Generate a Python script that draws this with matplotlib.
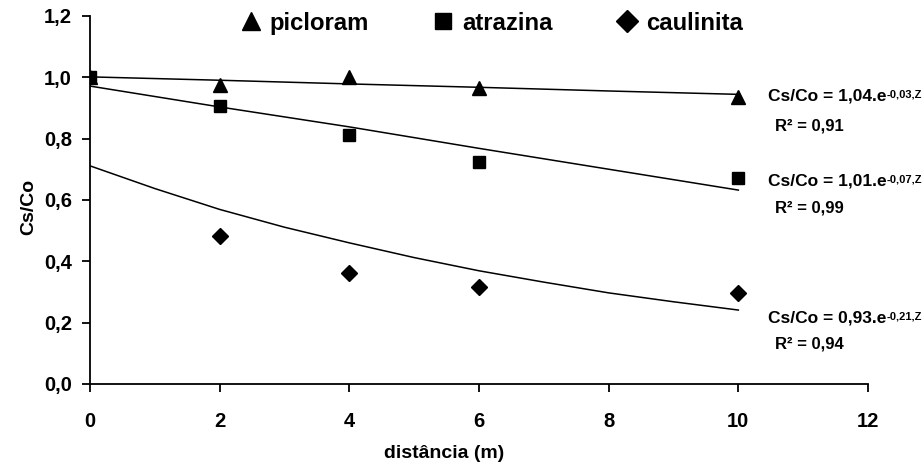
import matplotlib
matplotlib.use("Agg")
import matplotlib.pyplot as plt

plt.rcParams["font.family"] = ["Liberation Sans", "DejaVu Sans"]
plt.rcParams["font.weight"] = "bold"

# ----------------------------------------------------------------------
# DATA
# ----------------------------------------------------------------------
dist = [0, 2, 4, 6, 10]
picloram = [1.00, 0.974, 1.001, 0.966, 0.936]
atrazina = [1.00, 0.906, 0.813, 0.724, 0.672]
caul_x = [2, 4, 6, 10]
caulinita = [0.482, 0.363, 0.317, 0.297]

# fitted trend lines as drawn in the figure
fit_x = [0, 2, 4, 6, 8, 10]
picloram_fit = [1.001, 0.990, 0.978, 0.967, 0.955, 0.944]
atrazina_fit = [0.971, 0.903, 0.838, 0.768, 0.700, 0.632]
caul_fit_x = [0, 1, 2, 3, 4, 5, 6, 7, 8, 9, 10]
caulinita_fit = [0.711, 0.637, 0.569, 0.511, 0.460, 0.412, 0.369, 0.332,
                 0.297, 0.268, 0.241]

equations = [
    ("Cs/Co = 1,04.e", "-0,03,Z", "R² = 0,91"),
    ("Cs/Co = 1,01.e", "-0,07,Z", "R² = 0,99"),
    ("Cs/Co = 0,93.e", "-0,21,Z", "R² = 0,94"),
]
eq_y = [0.925, 0.648, 0.202]   # data y of equation baselines
r2_y = [0.827, 0.560, 0.117]

x_ticks = [0, 2, 4, 6, 8, 10, 12]
y_ticks = [0.0, 0.2, 0.4, 0.6, 0.8, 1.0, 1.2]

# ----------------------------------------------------------------------
# PLOT
# ----------------------------------------------------------------------
fig = plt.figure(figsize=(9.24, 4.65), dpi=100)
ax = fig.add_axes([0.0974, 0.1742, 0.842, 0.7918])

lw = 1.1
ax.plot(fit_x, picloram_fit, color="black", lw=lw)
ax.plot(fit_x, atrazina_fit, color="black", lw=lw)
ax.plot(caul_fit_x, caulinita_fit, color="black", lw=lw)

ax.plot(dist, picloram, "^", color="black", ms=9.5, label="picloram")
ax.plot(dist, atrazina, "s", color="black", ms=9.3, label="atrazina")
ax.plot(caul_x, caulinita, "D", color="black", ms=8.5, label="caulinita")

ax.set_xlim(0, 12)
ax.set_ylim(0, 1.2)
ax.set_xticks(x_ticks)
ax.set_yticks(y_ticks)
ax.set_xticklabels([str(v) for v in x_ticks])
ax.set_yticklabels([f"{v:.1f}".replace(".", ",") for v in y_ticks])
ax.tick_params(axis="both", direction="out", length=6, width=1.3,
               labelsize=14.5)
ax.tick_params(axis="x", pad=14)
ax.tick_params(axis="y", pad=7)
for side in ("top", "right"):
    ax.spines[side].set_visible(False)
for side in ("left", "bottom"):
    ax.spines[side].set_linewidth(1.3)

ax.set_xlabel("distância (m)", fontsize=14, fontweight="bold")
ax.xaxis.set_label_coords(0.455, -0.165)
ax.set_ylabel("Cs/Co", fontsize=14, fontweight="bold")
ax.yaxis.set_label_coords(-0.068, 0.48)

ax.legend(loc="center", bbox_to_anchor=(0.515, 0.98), ncol=3, frameon=False,
          markerscale=1.3, handlelength=1.0, handletextpad=0.3,
          columnspacing=2.6, prop={"weight": "bold", "size": 17.2})

for (main, sup, r2), ey, ry in zip(equations, eq_y, r2_y):
    t = ax.text(10.46, ey, main, fontsize=12.5, fontweight="bold",
                va="baseline", ha="left", clip_on=False)
    ax.annotate(sup, xy=(1, 0.92), xycoords=t, fontsize=8,
                fontweight="bold", va="top", ha="left")
    ax.text(10.57, ry, r2, fontsize=12, fontweight="bold",
            va="baseline", ha="left", clip_on=False)

fig.savefig("out.png", dpi=100)
